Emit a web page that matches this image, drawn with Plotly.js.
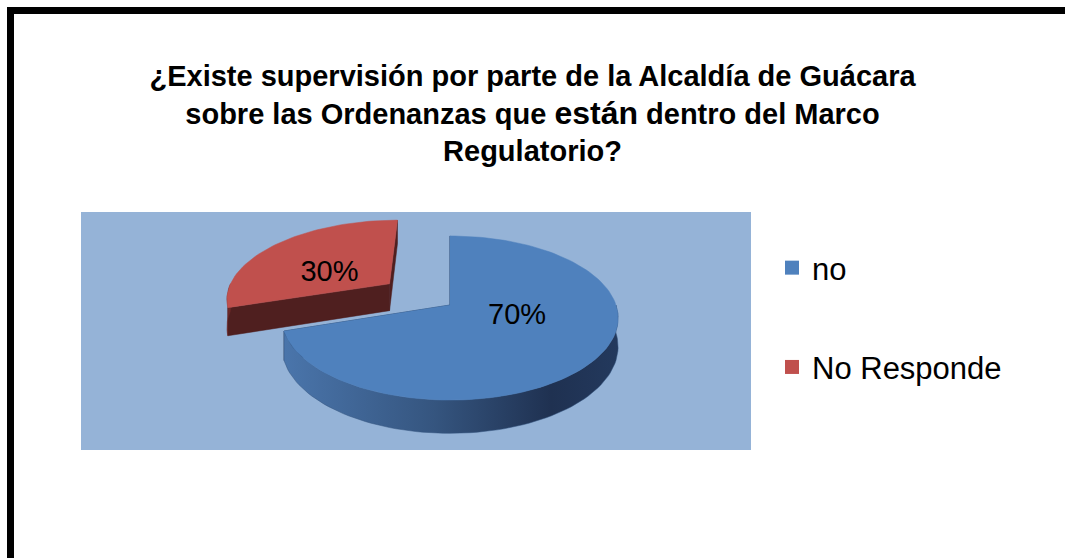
<!DOCTYPE html>
<html><head><meta charset="utf-8">
<script src="https://cdn.plot.ly/plotly-3.0.1.min.js"></script>
<style>html,body{margin:0;padding:0;background:#fff}#chart{width:1065px;height:558px}</style>
</head><body><div id="chart"></div>
<script>
// ---- data ----
const categories = ['no', 'No Responde'];
const values = [70, 30];
const topColors = ['#4F81BD', '#C0504D'];
const faceColors = ['#1F3350', '#4F1F1F'];
const sideColors = ['#34547F', '#6B2928'];
const titleLines = ['¿Existe supervisión por parte de la Alcaldía de Guácara',
                    'sobre las Ordenanzas que <span style="font-size:32px">están</span> dentro del Marco',
                    'Regulatorio?'];

// ---- geometry / style ----
const W = 1065, H = 558;
const PLOT = {x0: 81, x1: 751, y0: 212, y1: 450};
const CX = 450, CY = 305, RX = 166, RY = 80, PERSP = 0.1586, DEPTH = 28;
const EXPLODE = [0, 0.47];
const LABEL_R = 0.42, LABEL_SHIFT = -16;
const FONT = 'Arial, "Liberation Sans", sans-serif';
const rad = d => d * Math.PI / 180;

function proj(u, v, z) { const s = 1 + PERSP * v; return [CX + RX * u / s, CY - RY * v / s + z * DEPTH / s]; }

const total = values.reduce((a, b) => a + b, 0);
const slices = []; let cum = 0;
values.forEach((val, i) => {
  const a0 = 360 * cum / total; cum += val; const a1 = 360 * cum / total;
  const mid = (a0 + a1) / 2; const e = EXPLODE[i] || 0;
  slices.push({i, a0, a1, mid, ou: e * Math.sin(rad(mid)), ov: e * Math.cos(rad(mid))});
});

function rim(s, a, z) { return proj(s.ou + Math.sin(rad(a)), s.ov + Math.cos(rad(a)), z); }
function apex(s, z) { return proj(s.ou, s.ov, z); }
function arc(s, a, b, z) {
  const pts = []; const n = Math.max(2, Math.ceil(Math.abs(b - a) / 2));
  for (let k = 0; k <= n; k++) pts.push(rim(s, a + (b - a) * k / n, z));
  return pts;
}
function poly(pts, color, extra) {
  const xs = pts.map(p => p[0]), ys = pts.map(p => p[1]);
  xs.push(xs[0]); ys.push(ys[0]);
  return Object.assign({type: 'scatter', mode: 'lines', x: xs, y: ys, fill: 'toself', fillcolor: color,
    line: {width: 0.5, color: color}, hoverinfo: 'skip', showlegend: false}, extra || {});
}

const traces = [];
const order = slices.slice().sort((a, b) => b.ov - a.ov);
order.forEach(s => {
  // radial cut faces
  [s.a0, s.a1].forEach(a => {
    traces.push(poly([apex(s, 0), rim(s, a, 0), rim(s, a, 1), apex(s, 1)], faceColors[s.i]));
  });
  // outer side (front half)
  const b0 = Math.max(s.a0, 90), b1 = Math.min(s.a1, 270);
  if (b1 > b0) {
    const pts = arc(s, b0, b1, 0).concat(arc(s, b1, b0, 1));
    const extra = {};
    if (s.i === 0) {
      const xs = pts.map(p => p[0]);
      extra.fillgradient = {type: 'horizontal', start: Math.min(...xs), stop: Math.max(...xs),
        colorscale: [[0, '#4A75AB'], [0.45, '#35557F'], [0.8, '#1F3151'], [1, '#23395D']]};
    }
    traces.push(poly(pts, sideColors[s.i], extra));
  }
  // top surface
  traces.push(poly([apex(s, 0)].concat(arc(s, s.a0, s.a1, 0)), topColors[s.i]));
});

// labels
const lx = [], ly = [], lt = [];
slices.forEach(s => {
  const a = s.mid + LABEL_SHIFT;
  const p = proj(s.ou + LABEL_R * Math.sin(rad(a)), s.ov + LABEL_R * Math.cos(rad(a)), 0);
  lx.push(p[0]); ly.push(p[1]); lt.push(Math.round(100 * values[s.i] / total) + '%');
});
traces.push({type: 'scatter', mode: 'text', x: lx, y: ly, text: lt, textposition: 'middle center',
  textfont: {family: FONT, size: 29, color: '#000000'}, hoverinfo: 'skip', showlegend: false});

// legend entries
categories.forEach((c, i) => {
  traces.push({type: 'scatter', mode: 'markers', x: [null], y: [null], name: c, legendgroup: 'g' + i,
    marker: {symbol: 'square', size: 14, color: topColors[i]}, showlegend: true, hoverinfo: 'skip'});
});

const layout = {
  width: W, height: H, margin: {l: 0, r: 0, t: 0, b: 0},
  paper_bgcolor: '#FFFFFF', plot_bgcolor: '#95B3D7',
  font: {family: FONT, color: '#000000'},
  title: {text: titleLines.join('<br>'), font: {family: FONT, size: 29, weight: 'bold', color: '#000000'},
    x: 0.5, xanchor: 'center', xref: 'paper', y: 1 - 86 / H, yanchor: 'top', yref: 'paper'},
  xaxis: {domain: [PLOT.x0 / W, PLOT.x1 / W], range: [PLOT.x0, PLOT.x1], visible: false, fixedrange: true},
  yaxis: {domain: [1 - PLOT.y1 / H, 1 - PLOT.y0 / H], range: [PLOT.y1, PLOT.y0], visible: false, fixedrange: true},
  showlegend: true,
  legend: {x: 772 / W, xanchor: 'left', y: 1 - 241 / H, yanchor: 'top', font: {family: FONT, size: 31, color: '#000000'},
    bgcolor: 'rgba(0,0,0,0)', tracegroupgap: 56, traceorder: 'grouped', itemclick: false, itemdoubleclick: false},
  shapes: [{type: 'path', xref: 'paper', yref: 'paper', layer: 'above',
    path: 'M ' + (10.5 / W) + ' 0 L ' + (10.5 / W) + ' ' + (1 - 10.5 / H) + ' L 1 ' + (1 - 10.5 / H),
    line: {color: '#000000', width: 7}}]
};

Plotly.newPlot('chart', traces, layout, {displayModeBar: false, staticPlot: true});
</script>
</body></html>
